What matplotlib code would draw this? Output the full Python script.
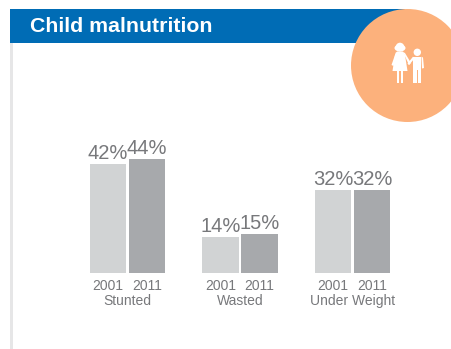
import matplotlib
matplotlib.use("Agg")
import matplotlib.pyplot as plt
from matplotlib.patches import Rectangle, Circle, Polygon, Ellipse

categories = ["Stunted", "Wasted", "Under Weight"]
years = ["2001", "2011"]
values_2001 = [42, 14, 32]
values_2011 = [44, 15, 32]

plt.rcParams["font.family"] = ["Liberation Sans", "DejaVu Sans"]

W, H = 452, 349
fig = plt.figure(figsize=(W / 100, H / 100), dpi=100)

# background shapes in pixel coordinates
bg = fig.add_axes([0, 0, 1, 1])
bg.set_xlim(0, W)
bg.set_ylim(H, 0)
bg.axis("off")
bg.add_patch(Rectangle((10, 43), 3, H - 43, color="#e6e6e7", lw=0))
bg.add_patch(Rectangle((10, 9), 395, 34, color="#006cb5", lw=0))
bg.add_patch(Circle((407.5, 65.5), 56.5, color="#fcb17c", lw=0, zorder=3))
bg.text(30, 26, "Child malnutrition", color="white", fontsize=15.3,
        fontweight="bold", va="center", ha="left")

# icon, girl and boy
white = dict(color="white", lw=0, zorder=4)
bg.add_patch(Circle((400, 47), 4.3, **white))
bg.add_patch(Ellipse((400, 48), 11, 7, **white))
bg.add_patch(Polygon([(397, 51.5), (403, 51.5), (405, 55), (407.5, 71), (392.5, 71), (395, 55)], **white))
bg.add_patch(Polygon([(396, 52), (398, 53), (393.5, 66), (391.5, 65)], **white))
bg.add_patch(Polygon([(403, 52), (405, 53), (411, 63), (409, 65)], **white))
bg.add_patch(Rectangle((396.7, 70), 2.6, 13, **white))
bg.add_patch(Rectangle((400.7, 70), 2.6, 13, **white))
bg.add_patch(Circle((417.3, 52.3), 3.7, **white))
bg.add_patch(Polygon([(413, 56.7), (421.5, 56.7), (421.5, 70), (413, 70)], **white))
bg.add_patch(Polygon([(413, 56.7), (414.5, 58.5), (409, 65), (407.5, 63.5)], **white))
bg.add_patch(Polygon([(421.5, 56.7), (423, 57.5), (424, 68), (422, 68.5)], **white))
bg.add_patch(Rectangle((413.3, 69), 3.3, 13.5, **white))
bg.add_patch(Rectangle((418, 69), 3.3, 13.5, **white))

# bars, 2.6 px per percent and 112.5 px between groups
base_y, top_y = 273, 100
ax = fig.add_axes([71.3 / W, 1 - base_y / H, 337.5 / W, (base_y - top_y) / H])
ax.patch.set_alpha(0)
ax.set_xlim(-0.5, 2.5)
ax.set_ylim(0, (base_y - top_y) / 2.6)
offset, width = 0.173, 0.322
pos = list(range(len(categories)))
ax.bar([p - offset for p in pos], values_2001, width, color="#d1d3d4")
ax.bar([p + offset for p in pos], values_2011, width, color="#a7a9ac")

for p, a, b in zip(pos, values_2001, values_2011):
    ax.text(p - offset, a + 0.2, f"{a}%", ha="center", va="bottom", fontsize=14.5, color="#77787b")
    ax.text(p + offset, b + 0.2, f"{b}%", ha="center", va="bottom", fontsize=14.5, color="#77787b")

ax.set_xticks([x for p in pos for x in (p - offset, p + offset)])
ax.set_xticklabels(years * len(categories), fontsize=10, color="#77787b")
ax.tick_params(axis="x", length=0, pad=4)
ax.set_yticks([])
for s in ax.spines.values():
    s.set_visible(False)
for p, c in zip(pos, categories):
    ax.annotate(c, (p, 0), xytext=(0, -20), textcoords="offset points", ha="center",
                va="center", fontsize=10, color="#77787b", annotation_clip=False)

fig.savefig("out.png", dpi=100)
